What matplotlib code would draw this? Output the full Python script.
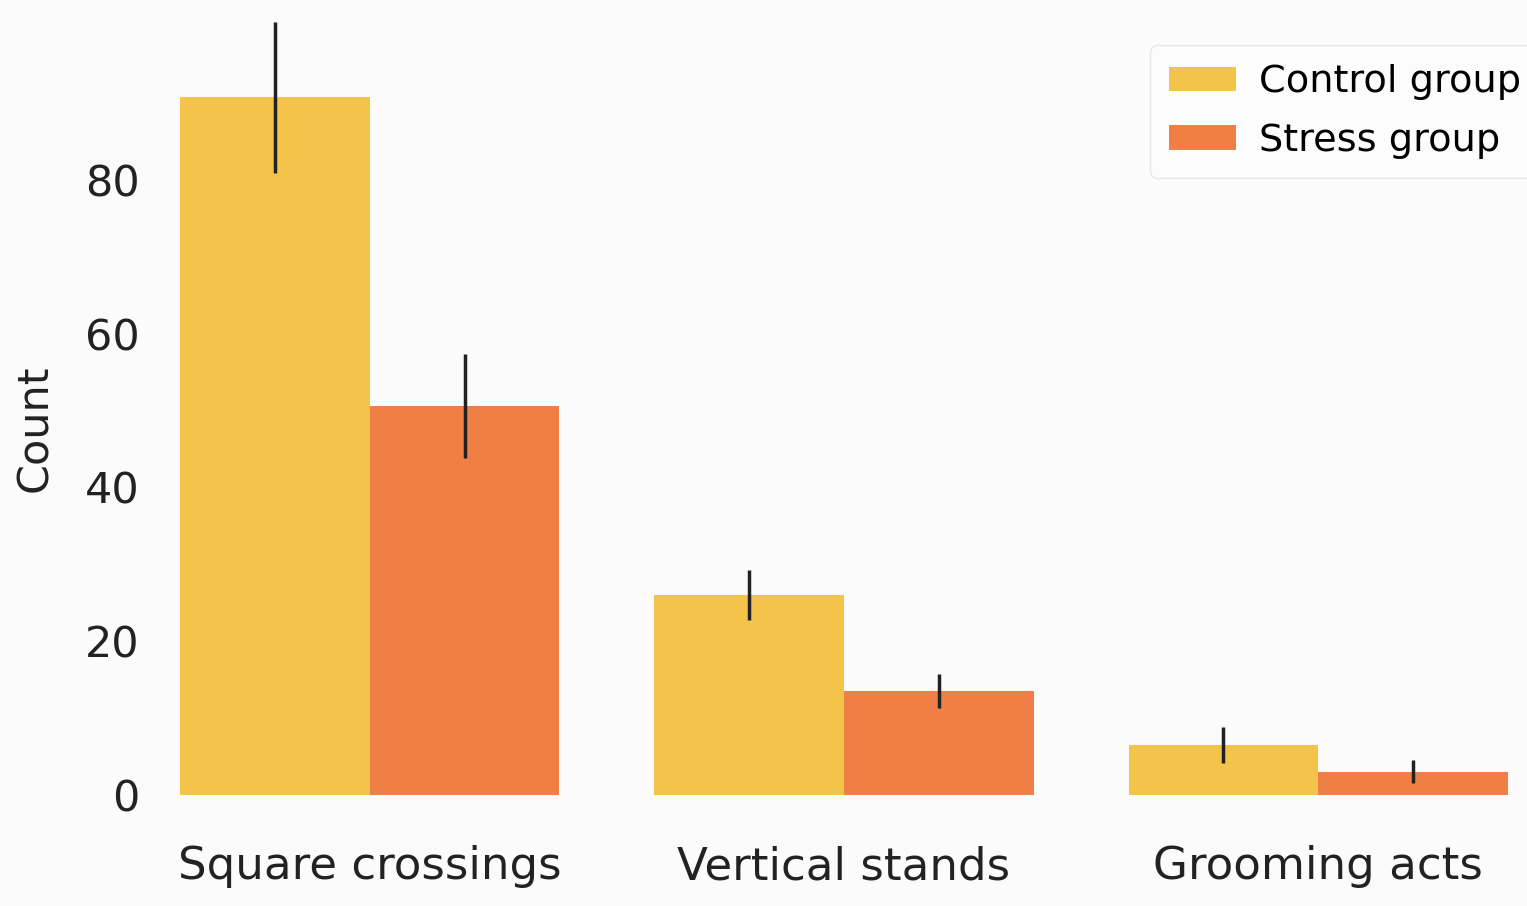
import numpy as np
import matplotlib.pyplot as plt

categories = ["Square crossings", "Vertical stands", "Grooming acts"]
control_mean = [90.7, 26, 6.5]
control_err = [9.8, 3.2, 2.3]
stress_mean = [50.6, 13.5, 3.0]
stress_err = [6.8, 2.2, 1.5]

yellow = "#f4c34a"
orange = "#ef7f45"
bg = "#fbfbfb"

fig = plt.figure(figsize=(15.27, 9.06), dpi=100, facecolor=bg)
ax = fig.add_axes([180 / 1527, 1 - 795 / 906, 1328 / 1527, (795 - 12) / 906])
ax.set_facecolor(bg)

x = np.arange(len(categories))
w = 0.4
ax.bar(x - w / 2, control_mean, w, color=yellow, label="Control group")
ax.bar(x + w / 2, stress_mean, w, color=orange, label="Stress group")
ax.errorbar(x - w / 2, control_mean, yerr=control_err, fmt="none",
            ecolor="#222222", elinewidth=2.5, capsize=0)
ax.errorbar(x + w / 2, stress_mean, yerr=stress_err, fmt="none",
            ecolor="#222222", elinewidth=2.5, capsize=0)

ax.set_xlim(-0.4, 2.4)
ax.set_ylim(0, 101.8)
ax.set_yticks([0, 20, 40, 60, 80])
ax.set_xticks(x)
ax.set_xticklabels(categories)
ax.tick_params(axis="both", length=0, colors="#222222")
ax.tick_params(axis="x", pad=36, labelsize=32.5)
ax.tick_params(axis="y", pad=29, labelsize=31)
ax.set_ylabel("Count", fontsize=31, color="#222222")
ax.yaxis.set_label_coords(-124 / 1328, (795 - 428) / 783)
for s in ax.spines.values():
    s.set_visible(False)

# legend hangs past the right edge of the figure
leg = ax.legend(loc="upper left", bbox_to_anchor=(970 / 1328, 750 / 783),
                borderaxespad=0, fontsize=27.5, frameon=True,
                handlelength=1.75, handleheight=0.6, handletextpad=0.6,
                labelspacing=0.6, borderpad=0.5)
leg.get_frame().set_edgecolor("#e2e2e2")
leg.get_frame().set_facecolor("#fdfdfd")

fig.savefig("out.png", dpi=100, facecolor=bg)
